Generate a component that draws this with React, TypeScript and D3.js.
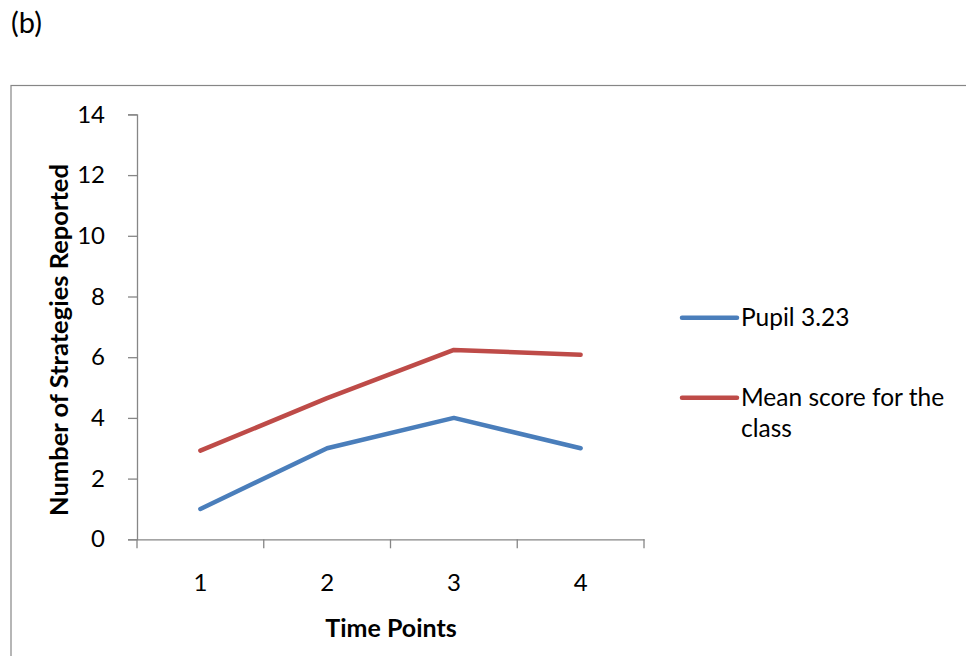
import React, { useEffect, useRef } from "react";
import * as d3 from "d3";

const categories = ["1", "2", "3", "4"];
const pupilValues = [1, 3, 4, 3];
const meanValues = [2.92, 4.65, 6.24, 6.08];
const yTicks = [0, 2, 4, 6, 8, 10, 12, 14];
const seriesNames = ["Pupil 3.23", "Mean score for the class"];
const seriesColors = ["#4A7EBB", "#BE4B48"];

const FONT = "Lato, 'Open Sans', sans-serif";

export default function App() {
  const ref = useRef<SVGSVGElement>(null);

  useEffect(() => {
    const svg = d3.select(ref.current);
    svg.selectAll("*").remove();

    const x = d3.scaleBand().domain(categories).range([137, 644]).padding(0);
    const y = d3.scaleLinear().domain([0, 14]).range([539.3, 114.4]);
    const axisColor = "#868686";

    // outer border
    svg.append("rect")
      .attr("x", 11).attr("y", 85.5)
      .attr("width", 1000).attr("height", 700)
      .attr("fill", "none").attr("stroke", axisColor).attr("stroke-width", 1.2);

    svg.append("text")
      .attr("x", 11).attr("y", 33)
      .attr("font-family", FONT).attr("font-size", 29)
      .text("(b)");

    // y axis
    const yAxis = d3.axisLeft(y).tickValues(yTicks).tickSize(9).tickPadding(24);
    const gy = svg.append("g").attr("transform", "translate(137,0)").call(yAxis);
    gy.select(".domain").attr("stroke", axisColor).attr("stroke-width", 1.3);
    gy.selectAll(".tick line").attr("stroke", axisColor).attr("stroke-width", 1.3);
    gy.selectAll(".tick text")
      .attr("font-family", FONT).attr("font-size", 24).attr("fill", "#000")
      .attr("x", -32);

    // x axis
    const xAxis = d3.axisBottom(x).tickSize(0).tickPadding(0);
    const gx = svg.append("g").attr("transform", "translate(0,539.3)").call(xAxis);
    gx.select(".domain").attr("stroke", axisColor).attr("stroke-width", 1.3);
    gx.selectAll(".tick text")
      .attr("font-family", FONT).attr("font-size", 24).attr("fill", "#000")
      .attr("y", 52).attr("dy", null);
    const boundaries = categories.map((c) => x(c) as number).concat([x.range()[1]]);
    gx.selectAll("line.bnd").data(boundaries).enter().append("line")
      .attr("class", "bnd")
      .attr("x1", (d) => d).attr("x2", (d) => d)
      .attr("y1", 0).attr("y2", 9)
      .attr("stroke", axisColor).attr("stroke-width", 1.3);

    // axis titles
    svg.append("text")
      .attr("x", 391).attr("y", 637)
      .attr("text-anchor", "middle")
      .attr("font-family", FONT).attr("font-size", 25).attr("font-weight", "bold")
      .text("Time Points");

    svg.append("text")
      .attr("transform", "translate(67.5,340) rotate(-90)")
      .attr("text-anchor", "middle")
      .attr("font-family", FONT).attr("font-size", 25.5).attr("font-weight", "bold")
      .text("Number of Strategies Reported");

    const line = d3.line<number>()
      .x((_, i) => (x(categories[i]) as number) + x.bandwidth() / 2)
      .y((d) => y(d));

    [pupilValues, meanValues].forEach((vals, i) => {
      svg.append("path")
        .attr("d", line(vals) as string)
        .attr("fill", "none")
        .attr("stroke", seriesColors[i])
        .attr("stroke-width", 4.5)
        .attr("stroke-linecap", "round")
        .attr("stroke-linejoin", "round");
    });

    // legend
    const legendY = [317.7, 397.7];
    seriesNames.forEach((name, i) => {
      svg.append("line")
        .attr("x1", 682).attr("x2", 737)
        .attr("y1", legendY[i]).attr("y2", legendY[i])
        .attr("stroke", seriesColors[i]).attr("stroke-width", 4.5)
        .attr("stroke-linecap", "round");
    });
    svg.append("text")
      .attr("x", 741).attr("y", 326)
      .attr("font-family", FONT).attr("font-size", 24.5)
      .text(seriesNames[0]);
    const t2 = svg.append("text")
      .attr("x", 741).attr("y", 406)
      .attr("font-family", FONT).attr("font-size", 24.5);
    t2.append("tspan").attr("x", 741).text("Mean score for the");
    t2.append("tspan").attr("x", 741).attr("dy", 30.5).text("class");
  }, []);

  return (
    <svg
      ref={ref}
      width={966}
      height={656}
      style={{ position: "absolute", left: 0, top: 0, background: "#fff" }}
    />
  );
}
